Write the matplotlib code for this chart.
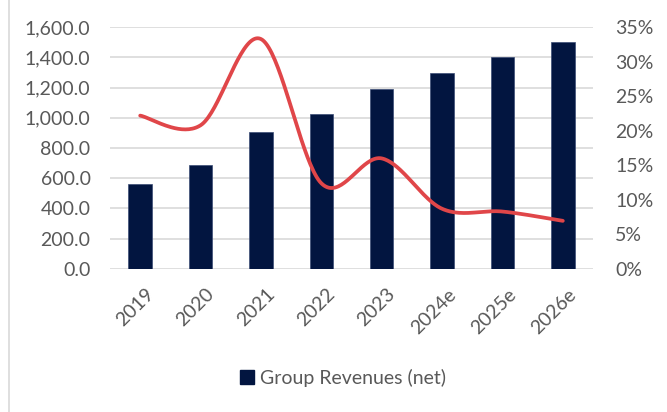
import numpy as np
import matplotlib
matplotlib.use("Agg")
import matplotlib.pyplot as plt
from matplotlib.patches import Patch
from matplotlib.lines import Line2D
from matplotlib.ticker import FuncFormatter, MultipleLocator
import matplotlib.transforms as mtrans

categories = ["2019", "2020", "2021", "2022", "2023", "2024e", "2025e", "2026e"]
revenues = [565, 686, 908, 1025, 1190, 1295, 1400, 1500]
growth_pct = [22.2, 20.8, 33.3, 12.4, 16.0, 8.7, 8.3, 6.95]
legend_label = "Group Revenues (net)"

BAR = "#021540"
RED = "#E04649"
TXT = "#595959"
GRID = "#D9D9D9"
FONT = ["Lato", "DejaVu Sans"]
FS = 14

plt.rcParams["font.family"] = FONT

W, H = 667, 412
fig = plt.figure(figsize=(W / 100, H / 100), dpi=100)
x0, x1, y0, y1 = 110, 593, 27.3, 268.8
ax = fig.add_axes([x0 / W, 1 - y1 / H, (x1 - x0) / W, (y1 - y0) / H])

x = np.arange(len(categories))
ax.bar(x, revenues, width=0.39, color=BAR, edgecolor="#3b4c75", linewidth=0.5, zorder=2)
ax.set_xlim(-0.5, len(categories) - 0.5)
ax.set_ylim(0, 1600)
ax.yaxis.set_major_locator(MultipleLocator(200))
ax.yaxis.set_major_formatter(FuncFormatter(lambda v, p: f"{v:,.1f}"))
ax.grid(axis="y", color=GRID, linewidth=1.2, zorder=0)
ax.set_axisbelow(True)
for s in ax.spines.values():
    s.set_visible(False)
ax.tick_params(axis="both", length=0, labelsize=FS, labelcolor=TXT)
ax.tick_params(axis="y", pad=14)
ax.set_xticks(x)
ax.set_xticklabels(categories, rotation=45, ha="right", rotation_mode="anchor")
ax.tick_params(axis="x", pad=12)
off = mtrans.ScaledTranslation(5 / 100, 0, fig.dpi_scale_trans)
for lab in ax.get_xticklabels():
    lab.set_transform(lab.get_transform() + off)

# secondary axis with smoothed line (Catmull-Rom through the data points)
ax2 = ax.twinx()
ax2.set_ylim(0, 35)
ax2.yaxis.set_major_locator(MultipleLocator(5))
ax2.yaxis.set_major_formatter(FuncFormatter(lambda v, p: f"{v:.0f}%"))
for s in ax2.spines.values():
    s.set_visible(False)
ax2.tick_params(axis="y", length=0, labelsize=FS, labelcolor=TXT, pad=16)

px = x.astype(float)
py = np.array(growth_pct, dtype=float)
xs, ys = [], []
n = len(px)
for i in range(n - 1):
    p0 = np.array([px[i], py[i]])
    p3 = np.array([px[i + 1], py[i + 1]])
    pm = np.array([px[i - 1], py[i - 1]]) if i > 0 else p0
    pp = np.array([px[i + 2], py[i + 2]]) if i + 2 < n else p3
    c1 = p0 + (p3 - pm) / 6
    c2 = p3 - (pp - p0) / 6
    t = np.linspace(0, 1, 40)[:, None]
    seg = (1 - t) ** 3 * p0 + 3 * (1 - t) ** 2 * t * c1 + 3 * (1 - t) * t ** 2 * c2 + t ** 3 * p3
    xs.extend(seg[:, 0]); ys.extend(seg[:, 1])
ax2.plot(xs, ys, color=RED, linewidth=2.7, solid_capstyle="round", zorder=3)

# legend
fig.legend(handles=[Patch(facecolor=BAR, edgecolor=BAR)], labels=[legend_label],
           loc="center", bbox_to_anchor=(343 / W, 1 - 378 / H), frameon=False,
           fontsize=FS, labelcolor=TXT, handlelength=0.7, handleheight=0.7,
           handletextpad=0.3, borderaxespad=0)

# chart border (left edge visible)
fig.add_artist(Line2D([8.5 / W, 8.5 / W], [0, 1], color=GRID, linewidth=1.2))

fig.savefig("out.png", dpi=100)
